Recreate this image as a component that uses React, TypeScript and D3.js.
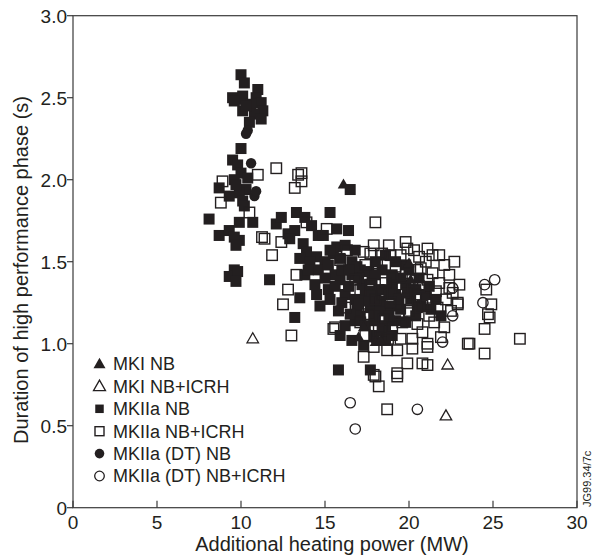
import React from "react";
import * as d3 from "d3";

type P = [number, number];

// MKI NB (filled triangles)
const mkiNB: P[] = [
  [16.1, 1.97], [20.0, 1.49], [20.1, 1.39], [17.0, 1.04], [17.3, 1.10], [18.0, 1.01], [18.3, 1.02],
];
// MKI NB+ICRH (open triangles)
const mkiNBICRH: P[] = [[10.7, 1.03], [22.3, 0.87], [22.2, 0.56]];

// MKIIa NB (filled squares)
const mk2NB: P[] = [
  [10.0, 2.64], [10.2, 2.59], [11.0, 2.55], [9.5, 2.5], [9.8, 2.49], [10.1, 2.51], [10.9, 2.5], [11.2, 2.47],
  [10.6, 2.46], [10.1, 2.42], [11.3, 2.42], [10.8, 2.4], [11.2, 2.37], [10.5, 2.35], [9.6, 2.48], [10.3, 2.45],
  [10.0, 2.19], [9.5, 2.12], [9.8, 2.09], [10.0, 2.04], [8.7, 1.95], [9.6, 2.0], [10.3, 1.94], [9.9, 1.92],
  [10.1, 1.87], [9.7, 1.97], [10.4, 2.01], [10.2, 1.84], [9.3, 1.9],
  [8.1, 1.76], [8.7, 1.66], [9.3, 1.69], [9.9, 1.63], [9.9, 1.74], [10.7, 1.74], [9.6, 1.65], [9.7, 1.6],
  [12.1, 1.73], [12.4, 1.77], [12.8, 1.67], [13.3, 1.8], [13.2, 1.69], [12.9, 1.64],
  [9.6, 1.45], [9.3, 1.41], [9.8, 1.44], [9.7, 1.38], [11.7, 1.39], [13.2, 1.16],
  [16.5, 1.94], [15.3, 1.8], [13.8, 1.77], [14.2, 1.72], [15.7, 1.7], [16.4, 1.69], [14.6, 1.66], [14.9, 1.66],
  [13.7, 1.61], [15.7, 1.59], [13.9, 1.56], [14.5, 1.53], [15.0, 1.5], [15.5, 1.55],
  [13.5, 1.52], [14.1, 1.5], [14.6, 1.45], [15.2, 1.48], [15.9, 1.52], [16.6, 1.5], [17.1, 1.45], [13.8, 1.42],
  [14.4, 1.36], [15.2, 1.33], [15.9, 1.39], [16.6, 1.42], [17.2, 1.36], [17.8, 1.39], [18.4, 1.45], [19.0, 1.42],
  [16.2, 1.3], [16.8, 1.27], [17.4, 1.3], [18.0, 1.27], [18.6, 1.33], [19.2, 1.3], [19.8, 1.36], [20.4, 1.33],
  [16.9, 1.21], [17.1, 1.17], [17.7, 1.22], [18.3, 1.2], [18.9, 1.23], [19.5, 1.21], [20.1, 1.27], [20.7, 1.23],
  [21.0, 1.3], [21.6, 1.27], [16.2, 1.11], [16.8, 1.14], [17.4, 1.11], [18.0, 1.14], [18.6, 1.11], [15.9, 1.05],
  [16.6, 1.02], [17.3, 0.99], [19.2, 1.14], [19.8, 1.13], [20.4, 1.17], [21.3, 1.21], [21.9, 1.17], [15.3, 1.27],
  [14.7, 1.23], [13.5, 1.28], [18.6, 1.54], [19.2, 1.5], [19.8, 1.48], [18.0, 1.5], [15.3, 1.57], [16.2, 1.6],
  [16.8, 1.57], [15.8, 0.84], [17.7, 0.84], [18.6, 1.02], [17.9, 1.05], [14.0, 1.45], [15.6, 1.42], [16.4, 1.35],
  [16.0, 1.45], [16.9, 1.47], [17.6, 1.44], [18.2, 1.33], [17.0, 1.24], [17.6, 1.26], [18.3, 1.26], [16.5, 1.18],
  [17.9, 1.17], [18.8, 1.17], [15.6, 1.35], [15.0, 1.4], [14.5, 1.3], [19.5, 1.4], [20.0, 1.45], [19.0, 1.36],
  [20.6, 1.4], [21.2, 1.35], [18.4, 1.08], [19.0, 1.05],
  [16.0, 1.25], [17.0, 1.4], [18.0, 1.42], [18.8, 1.3], [19.4, 1.27], [17.7, 1.32], [16.4, 1.45], [15.8, 1.2],
  [19.9, 1.31], [20.5, 1.22],
];

// MKIIa NB+ICRH (open squares)
const mk2NBICRH: P[] = [
  [8.9, 1.99], [8.8, 1.86], [10.5, 1.8], [11.0, 2.03], [12.1, 2.07], [13.4, 2.03], [13.6, 2.04], [13.6, 1.99],
  [13.2, 1.95], [11.25, 1.65], [11.4, 1.64], [12.4, 1.62], [11.85, 1.54], [12.8, 1.33], [12.5, 1.24], [13.9, 1.74],
  [15.1, 1.7], [16.3, 1.57], [17.9, 1.6], [18.0, 1.74], [17.7, 1.55], [13.0, 1.05], [15.5, 1.09], [13.3, 1.42],
  [15.9, 1.51], [16.2, 1.22], [15.6, 1.1], [17.3, 1.56],
  [19.8, 1.62], [19.9, 1.58], [21.1, 1.58], [21.4, 1.54], [18.9, 1.54], [18.4, 1.55], [18.1, 1.49], [19.2, 1.47],
  [21.0, 1.5], [20.7, 1.46], [20.5, 1.45], [20.2, 1.39], [21.1, 1.39], [21.8, 1.37], [22.4, 1.42], [22.4, 1.34],
  [22.6, 1.31], [19.6, 1.34], [18.0, 1.27], [18.9, 1.25], [19.9, 1.25], [20.8, 1.23], [21.7, 1.22], [22.9, 1.25],
  [19.6, 1.13], [20.5, 1.12], [21.5, 1.13], [22.1, 1.1], [18.1, 1.04], [18.75, 1.03], [19.5, 1.03], [20.2, 1.03],
  [21.1, 1.0], [17.9, 0.98], [18.7, 0.96], [19.3, 0.96], [20.2, 0.97], [21.1, 0.98], [19.9, 0.88], [20.8, 0.88],
  [21.1, 0.87], [19.3, 0.82], [17.9, 0.81], [18.2, 0.74], [23.5, 1.0], [17.3, 0.92], [18.0, 0.8], [19.3, 0.8],
  [18.7, 0.6], [24.6, 1.33], [24.9, 1.24], [24.7, 1.18], [24.8, 1.16], [24.5, 1.09], [26.6, 1.03], [23.6, 1.0],
  [24.5, 0.94], [22.9, 1.24], [21.8, 1.54], [22.1, 1.48], [22.7, 1.5], [23.0, 1.36], [19.5, 1.54], [17.1, 1.33],
  [17.7, 1.36], [16.8, 1.39], [17.4, 1.48], [17.1, 1.13], [17.4, 1.05],
  [19.0, 1.4], [19.8, 1.43], [20.4, 1.3], [21.0, 1.28], [21.6, 1.32], [22.2, 1.27], [18.6, 1.37], [20.0, 1.2],
  [21.2, 1.17], [18.5, 1.15], [19.0, 1.1], [20.8, 1.07], [21.9, 1.04], [22.5, 1.2], [18.4, 1.3], [19.4, 1.18],
  [20.6, 1.35], [21.4, 1.43], [17.6, 1.18], [18.2, 1.08], [18.8, 1.6], [20.3, 1.57], [20.6, 1.53],
];

// MKIIa (DT) NB (filled circles)
const dtNB: P[] = [[10.4, 2.3], [10.3, 2.28], [10.6, 2.1], [10.8, 1.9], [10.9, 1.93]];
// MKIIa (DT) NB+ICRH (open circles)
const dtNBICRH: P[] = [
  [25.1, 1.39], [24.5, 1.36], [24.4, 1.25], [22.6, 1.34], [22.6, 1.17], [22.0, 1.01], [16.5, 0.64], [16.8, 0.48],
  [20.5, 0.6],
];

const xTicks = [0, 5, 10, 15, 20, 25, 30];
const yTicks = [0, 0.5, 1.0, 1.5, 2.0, 2.5, 3.0];
const yTickLabels = ["0", "0.5", "1.0", "1.5", "2.0", "2.5", "3.0"];
const legendLabels = [
  "MKI NB",
  "MKI NB+ICRH",
  "MKIIa NB",
  "MKIIa NB+ICRH",
  "MKIIa (DT) NB",
  "MKIIa (DT) NB+ICRH",
];

const INK = "#231f20";
const FONT = "'Liberation Sans', Arial, Helvetica, sans-serif";

const X0 = 73, X1 = 577, Y0 = 507.7, Y1 = 15.7;

function tri(cx: number, cy: number, s: number) {
  const h = s * 0.87;
  return `M${cx},${cy - h * 0.6}L${cx + s / 2},${cy + h * 0.4}L${cx - s / 2},${cy + h * 0.4}Z`;
}

function Marker({ kind, cx, cy, legend }: { kind: number; cx: number; cy: number; legend?: boolean }) {
  const sq = legend ? 9 : 10.5;
  const sqF = legend ? 8.5 : 11;
  const r = legend ? 4.8 : 5.2;
  const ts = legend ? 12 : 11.5;
  switch (kind) {
    case 0:
      return <path d={tri(cx, cy, ts)} fill={INK} />;
    case 1:
      return <path d={tri(cx, cy, ts)} fill="none" stroke={INK} strokeWidth={1.3} />;
    case 2:
      return <rect x={cx - sqF / 2} y={cy - sqF / 2} width={sqF} height={sqF} fill={INK} />;
    case 3:
      return (
        <rect x={cx - sq / 2} y={cy - sq / 2} width={sq} height={sq} fill="none" stroke={INK} strokeWidth={1.4} />
      );
    case 4:
      return <circle cx={cx} cy={cy} r={r} fill={INK} />;
    default:
      return <circle cx={cx} cy={cy} r={r} fill="none" stroke={INK} strokeWidth={1.3} />;
  }
}

export default function App() {
  const x = d3.scaleLinear().domain([0, 30]).range([X0, X1]);
  const y = d3.scaleLinear().domain([0, 3]).range([Y0, Y1]);

  const layers: { kind: number; data: P[] }[] = [
    { kind: 2, data: mk2NB },
    { kind: 3, data: mk2NBICRH },
    { kind: 0, data: mkiNB },
    { kind: 1, data: mkiNBICRH },
    { kind: 4, data: dtNB },
    { kind: 5, data: dtNBICRH },
  ];

  return (
    <svg
      width={592}
      height={555}
      style={{ position: "absolute", left: 0, top: 0, background: "white" }}
      fontFamily={FONT}
    >
      <rect x={0} y={0} width={592} height={555} fill="white" />
      {/* frame */}
      <rect x={X0} y={Y1} width={X1 - X0} height={Y0 - Y1} fill="none" stroke="#3a3a3a" strokeWidth={1.2} />
      {/* y ticks */}
      {yTicks.map((t, i) => (
        <g key={"y" + i}>
          <line x1={X0 - 6} x2={X0} y1={y(t)} y2={y(t)} stroke="#3a3a3a" strokeWidth={1.2} />
          <text x={67} y={y(t) + 6.8} textAnchor="end" fontSize={19} fill={INK}>
            {yTickLabels[i]}
          </text>
        </g>
      ))}
      {/* x ticks */}
      {xTicks.map((t, i) => (
        <g key={"x" + i}>
          <line x1={x(t)} x2={x(t)} y1={Y0} y2={Y0 - 7} stroke="#3a3a3a" strokeWidth={1.2} />
          <text x={x(t)} y={529} textAnchor="middle" fontSize={19} fill={INK}>
            {t}
          </text>
        </g>
      ))}
      {/* points */}
      {layers.map((l, li) => (
        <g key={"l" + li}>
          {l.data.map((d, j) => (
            <Marker key={j} kind={l.kind} cx={x(d[0])} cy={y(d[1])} />
          ))}
        </g>
      ))}
      {/* legend */}
      {legendLabels.map((lab, i) => {
        const cy = 364 + i * 22.4;
        return (
          <g key={"lg" + i}>
            <Marker kind={i} cx={99.5} cy={cy} legend />
            <text x={113} y={cy + 6.4} fontSize={18} fill={INK}>
              {lab}
            </text>
          </g>
        );
      })}
      {/* axis titles */}
      <text x={332} y={551} textAnchor="middle" fontSize={20} fill={INK}>
        Additional heating power (MW)
      </text>
      <text transform="translate(28,270) rotate(-90)" textAnchor="middle" fontSize={20} fill={INK}>
        Duration of high performance phase (s)
      </text>
      <text transform="translate(591,507) rotate(-90)" fontSize={11} fill={INK}>
        JG99.34/7c
      </text>
    </svg>
  );
}
